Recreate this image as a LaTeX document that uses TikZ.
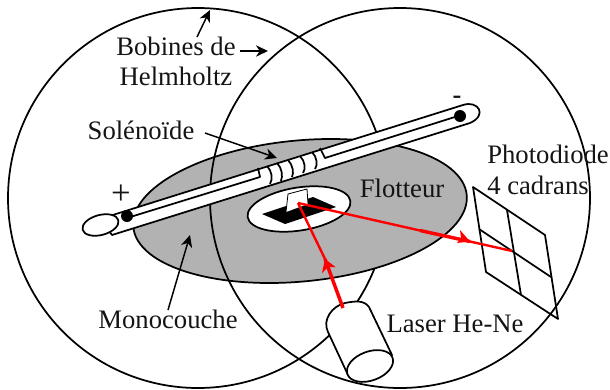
\documentclass[tikz,border=0pt]{standalone}
\usepackage{fontspec}
\setmainfont{Liberation Serif}
\usetikzlibrary{arrows.meta}
\tikzset{
 px/.style={x=0.75pt,y=-0.75pt},
 ln/.style={draw=black,line width=1.3pt,line join=round},
 lab/.style={inner sep=0pt,anchor=base,font=\fontsize{20pt}{22.5pt}\selectfont,text=black!92},
 arr/.style={draw=black,line width=1.1pt,-{Stealth[length=9pt,width=8.5pt,inset=2.8pt]}},
 beam/.style={draw=red,line width=1.8pt},
 beamthick/.style={draw=red,line width=2.6pt},
}
\begin{document}
\begin{tikzpicture}[px]
\useasboundingbox (0,0) rectangle (610,389);
% left coil, monolayer, right coil
\draw[ln] (198,198) circle [x radius=190,y radius=190];
\draw[ln,fill=black!30,rotate around={5.5:(300,211)}] (300,211) ellipse [x radius=167.5,y radius=70.5];
\draw[ln] (400,198) circle [x radius=190,y radius=190];
% float hole
\draw[ln,fill=white,rotate around={9:(299,209)}] (299,209) ellipse [x radius=52,y radius=21.5];
\fill[black] (262,214) -- (313,197) -- (336,207) -- (285,224) -- cycle;
\fill[white] (288,194) -- (307,189) -- (308,204) -- (286,212) -- cycle;
\draw[line width=.6pt] (286,212) -- (288,194) -- (307,189) -- (308,204);
% tube
\draw[ln,fill=white] (100,219) -- (463,105) .. controls (478,100) and (488,115) .. (470,123) -- (112,235) -- cycle;
\draw[ln,fill=white,rotate around={15:(100.5,225)}] (100.5,225) ellipse [x radius=18.5,y radius=10];
\draw[ln] (127,218) -- (260,177) -- (258,168);
\draw[ln] (320,148) -- (325,158) -- (458,116);
\fill (127,216) circle [x radius=6,y radius=6];
\fill (460,116) circle [x radius=6,y radius=6];
% windings
\foreach \x/\y/\xx/\yy in {267/166/270/184,277/163/281/181,288/160/292/177,300/156/303/173,312/152/315/169}{
 \draw[ln] (\x,\y) .. controls (\x+5,\y+5) and (\x+6,\y+13) .. (\xx,\yy);
}
% pointer arrows
\coordinate (bobA) at (197,37); \coordinate (bobAe) at (210,10);
\coordinate (bobB) at (240,51); \coordinate (bobBe) at (268,51);
\coordinate (solA) at (205,133); \coordinate (solAe) at (277,158);
\coordinate (monA) at (168,310); \coordinate (monAe) at (190,235);
\draw[arr] (bobA) -- (bobAe);
\draw[arr] (bobB) -- (bobBe);
\draw[arr] (solA) -- (solAe);
\draw[arr] (monA) -- (monAe);
% laser
\draw[ln,fill=white] (348,375) -- (328,332) .. controls (322,320) and (332,306) .. (345,303) .. controls (355,301) and (364,300) .. (369,307) -- (392,355) -- cycle;
\draw[ln,fill=white,rotate around={20:(370,366)}] (370,366) ellipse [x radius=24,y radius=14.5];
% photodiode
\draw[ln] (473,187) -- (545,235) -- (558,319) -- (486,272) -- cycle;
\draw[ln] (507,210) -- (521,295);
\draw[ln] (479,229) -- (551,277);
% beams
\coordinate (src) at (298,203);
\coordinate (laserout) at (343,308);
\coordinate (tipA) at (325,259);
\coordinate (tipB) at (470,241.5);
\coordinate (tailB) at (420,230.5);
\coordinate (pd) at (512,251);
\draw[beam] (src) -- (tipA);
\draw[beamthick] (tipA) -- (laserout);
\fill[red] (tipA) -- (335.5,267) -- (328,267) -- (322,273) -- cycle;
\draw[beam] (src) -- (tailB);
\draw[beamthick] (tailB) -- (tipB);
\draw[beam] (tipB) -- (pd);
\fill[red] (tipB) -- (460,230) -- (461,238) -- (457,243) -- cycle;
% text
\node[lab] (bob) at (176,55) {Bobines de};
\node[lab] (helm) at (176,85) {Helmholtz};
\node[lab] (sol) at (141,139) {Solénoïde};
\node[lab] (flo) at (402,197) {Flotteur};
\node[lab,anchor=base west] (pho) at (487,163) {Photodiode};
\node[lab,anchor=base west] (cad) at (487,194) {4 cadrans};
\node[lab] (mon) at (168,328) {Monocouche};
\node[lab] (las) at (455,332) {Laser He-Ne};
\node[lab,font=\fontsize{26pt}{26pt}\selectfont] (pl) at (121,204) {+};
\node[lab,font=\bfseries\fontsize{19.8pt}{22pt}\selectfont] (mi) at (457,103) {-};
\end{tikzpicture}
\end{document}
